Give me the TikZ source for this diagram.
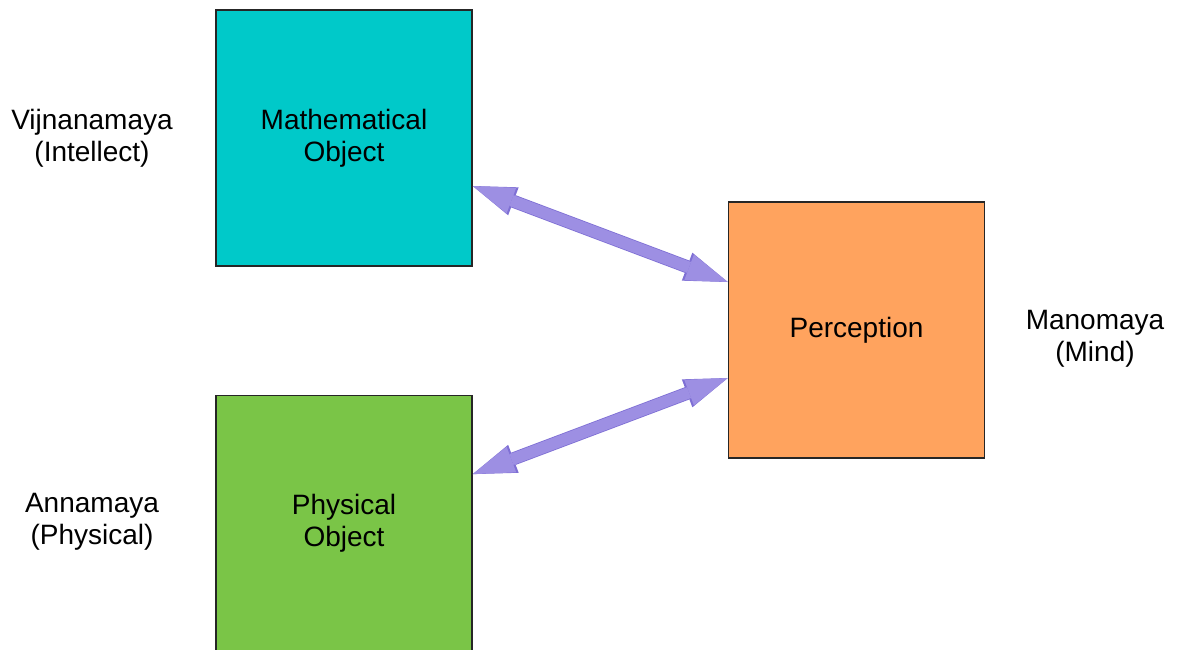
\documentclass[tikz,border=0pt]{standalone}
\usepackage{fontspec}
\setmainfont{Liberation Sans}
\usepackage{xcolor}
\usetikzlibrary{arrows.meta, positioning}

\definecolor{mathfill}{HTML}{00C9C9}
\definecolor{physfill}{HTML}{7AC547}
\definecolor{percfill}{HTML}{FFA35E}
\definecolor{arrfill}{HTML}{9D8FE3}
\definecolor{arredge}{HTML}{7E6FD4}

\begin{document}
\begin{tikzpicture}[
  x=0.75pt, y=-0.75pt,
  node distance=96pt and 33pt,
  box/.style={draw=black!85, line width=1.1pt, minimum size=192pt,
              inner sep=0pt, align=center,
              font=\fontsize{21}{24}\selectfont},
  lbl/.style={align=center, inner sep=0pt,
              font=\fontsize{21}{24}\selectfont},
  arr/.style={line width=8.6pt, draw=arrfill,
              {Triangle[length=31pt, width=20.5pt, line width=0pt]}-{Triangle[length=31pt, width=20.5pt, line width=0pt]},
              preaction={draw=arredge, line width=9.8pt,
                {Triangle[length=32.6pt, width=22.4pt, line width=0pt]}-{Triangle[length=32.6pt, width=22.4pt, line width=0pt]}}}
]
  \useasboundingbox (0,0) rectangle (1186,650);

  % Boxes
  \node[box, fill=mathfill] (math) at (344,138) {Mathematical\\Object};
  \node[box, fill=physfill] (phys) [below=of math] {Physical\\Object};
  \node[box, fill=percfill] (perc) at (856.5,330) {Perception};

  % Layer labels
  \node[lbl] (vij)  at (92,138)   {Vijnanamaya\\(Intellect)};
  \node[lbl] (anna) at (92,522)   {Annamaya\\(Physical)};
  \node[lbl] (mano) at (1095,339) {Manomaya\\(Mind)};

  % Arrows
  \draw[arr] ([yshift=-36pt]math.east) -- ([yshift=36pt]perc.west);
  \draw[arr] ([yshift=37pt]phys.east) -- ([yshift=-36pt]perc.west);
\end{tikzpicture}
\end{document}
